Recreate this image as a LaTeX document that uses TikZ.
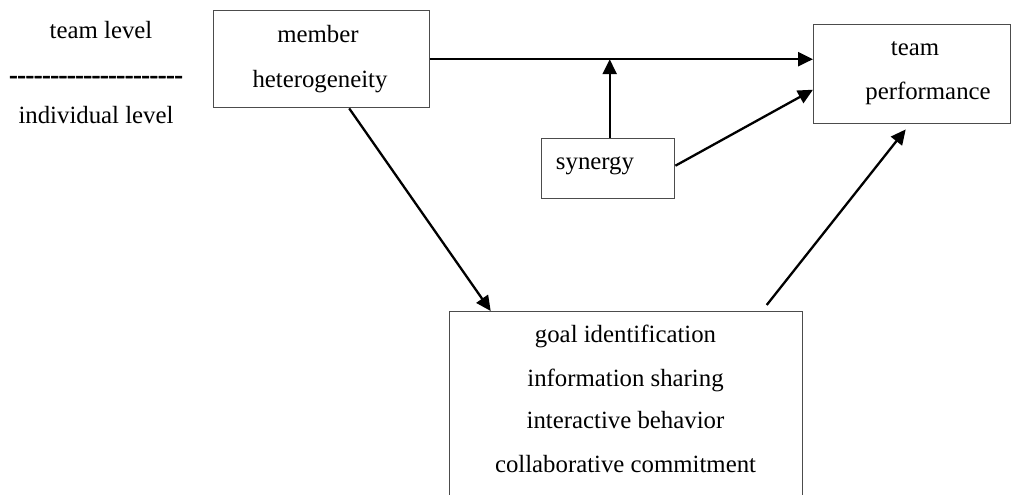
\documentclass[tikz,border=0pt]{standalone}
\usepackage{fontspec}
\setmainfont{Liberation Serif}
\newfontfamily\hyfont{Liberation Serif}[Ligatures=TeXOff,UprightFont=*,BoldFont=*,UprightFeatures={FakeBold=2.5},BoldFeatures={FakeBold=2.5}]
\usetikzlibrary{arrows.meta,calc}
\begin{document}
\begin{tikzpicture}[x=0.5pt,y=-0.5pt,
  every node/.style={font=\fontsize{12.4}{15}\selectfont},
  box/.style={draw=black!70,line width=0.7pt,rectangle,inner sep=0pt,anchor=north west},
  lbl/.style={anchor=base,inner sep=0pt},
  arr/.style={line width=1.15pt,-{Triangle[length=7.5pt,width=7pt]}}]
\clip (0,0) rectangle (1011,494);
\useasboundingbox (0,0) rectangle (1011,494);
% boxes
\node[box,minimum width=108pt,minimum height=48.5pt] (member) at (212.5,10) {};
\node[box,minimum width=98.5pt,minimum height=49.5pt] (perf) at (813,24) {};
\node[box,minimum width=66.5pt,minimum height=30pt] (synergy) at (541,138) {};
\node[box,minimum width=176.5pt,minimum height=110pt] (bottom) at (449,311) {};
% texts
\node[lbl] (t1) at (101,38) {team level};
\node[lbl,font=\hyfont\fontsize{12.4}{15}\selectfont] (t2) at (96,83) {---------------------};
\node[lbl] (t3) at (96,123) {individual level};
\node[lbl] (m1) at (318,42) {member};
\node[lbl] (m2) at (320,87) {heterogeneity};
\node[lbl] (p1) at (915,55) {team};
\node[lbl] (p2) at (928,99) {performance};
\node[lbl] (s1) at (595,169) {synergy};
\node[lbl] (b1) at (625.5,342) {goal identification};
\node[lbl] (b2) at (625.5,386) {information sharing};
\node[lbl] (b3) at (625.5,428) {interactive behavior};
\node[lbl] (b4) at (625.5,472) {collaborative commitment};
% connectors
\draw[arr] (member.east) -- (member.east -| perf.west);
\draw[arr] ([xshift=0.75pt]synergy.north) -- ([xshift=0.75pt]synergy.north |- member.east);
\draw[arr] ([yshift=1.5pt]synergy.east) -- ([yshift=-7.75pt]perf.west);
\draw[arr] ([xshift=14pt]member.south) -- ([xshift=-67.75pt]bottom.north);
\draw[arr] ([xshift=70.25pt,yshift=3pt]bottom.north) -- ([xshift=-3.25pt,yshift=-2.5pt]perf.south);
\end{tikzpicture}
\end{document}
